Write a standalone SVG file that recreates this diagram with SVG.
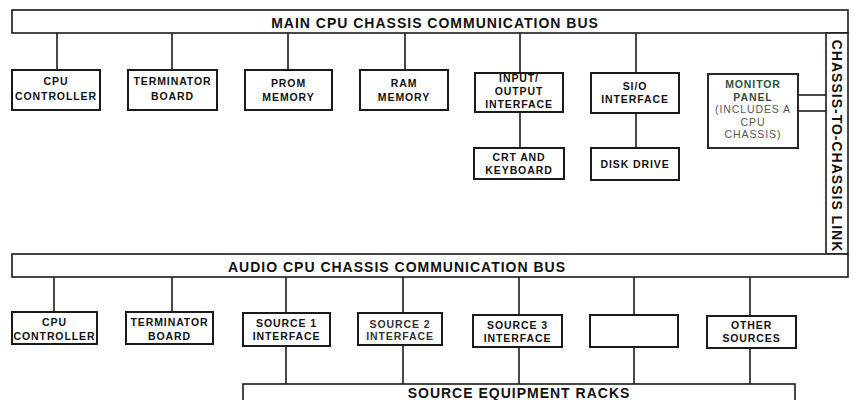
<svg xmlns="http://www.w3.org/2000/svg" width="854" height="400" viewBox="0 0 854 400">
<style>
.bus{fill:#fff;stroke:#1a1a1a;stroke-width:1.6}
.box{fill:#fff;stroke:#1a1a1a;stroke-width:2}
.conn{stroke:#1a1a1a;stroke-width:1.6;fill:none}
.bt{font-family:"Liberation Sans",Arial,sans-serif;font-weight:bold;font-size:14px;letter-spacing:1px;fill:#111;text-anchor:middle}
.t{font-family:"Liberation Sans",Arial,sans-serif;font-weight:bold;font-size:10.5px;letter-spacing:0.9px;fill:#111;text-anchor:middle}
.mp{fill:#2e5040}
.mpr{font-weight:normal;fill:#555}
.grey{fill:#333}
</style>
<rect width="854" height="400" fill="#fff"/>

<g id="connectors">
<line class="conn" x1="57" y1="33" x2="57" y2="70"/>
<line class="conn" x1="172" y1="33" x2="172" y2="70"/>
<line class="conn" x1="288" y1="33" x2="288" y2="70"/>
<line class="conn" x1="405" y1="33" x2="405" y2="70"/>
<line class="conn" x1="520" y1="33" x2="520" y2="73"/>
<line class="conn" x1="636" y1="33" x2="636" y2="73"/>
<line class="conn" x1="520" y1="112" x2="520" y2="148"/>
<line class="conn" x1="636" y1="113" x2="636" y2="148"/>
<line class="conn" x1="798" y1="95" x2="826" y2="95"/>
<line class="conn" x1="798" y1="111" x2="826" y2="111"/>
<line class="conn" x1="54" y1="277" x2="54" y2="312"/>
<line class="conn" x1="172" y1="277" x2="172" y2="312"/>
<line class="conn" x1="286" y1="277" x2="286" y2="313"/>
<line class="conn" x1="403" y1="277" x2="403" y2="313"/>
<line class="conn" x1="519" y1="277" x2="519" y2="315"/>
<line class="conn" x1="634" y1="277" x2="634" y2="315"/>
<line class="conn" x1="750" y1="277" x2="750" y2="316"/>
<line class="conn" x1="286" y1="346" x2="286" y2="384"/>
<line class="conn" x1="403" y1="345" x2="403" y2="384"/>
<line class="conn" x1="519" y1="347" x2="519" y2="384"/>
<line class="conn" x1="634" y1="347" x2="634" y2="384"/>
<line class="conn" x1="750" y1="348" x2="750" y2="384"/>
</g>

<g id="main-bus">
<rect class="bus" x="12" y="10" width="836" height="23"/>
<text class="bt" x="435" y="28">MAIN CPU CHASSIS COMMUNICATION BUS</text>
</g>

<g id="chassis-link">
<rect class="bus" x="826" y="33" width="22" height="221"/>
<text class="bt" transform="translate(837,146) rotate(90)" x="0" y="5">CHASSIS-TO-CHASSIS LINK</text>
</g>

<g id="audio-bus">
<rect class="bus" x="12" y="254" width="836" height="23"/>
<text class="bt" x="397" y="272">AUDIO CPU CHASSIS COMMUNICATION BUS</text>
</g>

<g id="racks">
<rect class="bus" x="243" y="384" width="552" height="30"/>
<text class="bt" x="519" y="397.5">SOURCE EQUIPMENT RACKS</text>
</g>

<g id="cpu-controller-1">
<rect class="box" x="12" y="70" width="88" height="40"/>
<text class="t" x="56" y="85">CPU</text>
<text class="t" x="56" y="100">CONTROLLER</text>
</g>
<g id="terminator-1">
<rect class="box" x="128" y="70" width="89" height="40"/>
<text class="t" x="172.5" y="85">TERMINATOR</text>
<text class="t" x="172.5" y="100">BOARD</text>
</g>
<g id="prom">
<rect class="box" x="245" y="70" width="87" height="40"/>
<text class="t" x="288.5" y="87">PROM</text>
<text class="t" x="288.5" y="101">MEMORY</text>
</g>
<g id="ram">
<rect class="box" x="360" y="70" width="88" height="40"/>
<text class="t" x="404" y="87">RAM</text>
<text class="t" x="404" y="101">MEMORY</text>
</g>
<g id="io">
<rect class="box" x="475" y="73" width="88" height="39"/>
<text class="t" x="519" y="82">INPUT/</text>
<text class="t" x="519" y="95">OUTPUT</text>
<text class="t" x="519" y="108">INTERFACE</text>
</g>
<g id="sio">
<rect class="box" x="591" y="73" width="88" height="40"/>
<text class="t" x="635" y="90">SI/O</text>
<text class="t" x="635" y="103">INTERFACE</text>
</g>
<g id="monitor">
<rect class="box" x="708" y="74" width="90" height="74" style="stroke:#2a2a2a"/>
<text class="t mp" x="753" y="88">MONITOR</text>
<text class="t mp" x="753" y="100.5">PANEL</text>
<text class="t mpr" x="753" y="113">(INCLUDES A</text>
<text class="t mpr" x="753" y="125.5">CPU</text>
<text class="t mpr" x="753" y="138">CHASSIS)</text>
</g>
<g id="crt">
<rect class="box" x="474" y="148" width="90" height="31"/>
<text class="t" x="519" y="161">CRT AND</text>
<text class="t" x="519" y="174">KEYBOARD</text>
</g>
<g id="disk">
<rect class="box" x="591" y="148" width="88" height="32"/>
<text class="t" x="635" y="168">DISK DRIVE</text>
</g>

<g id="cpu-controller-2">
<rect class="box" x="12" y="312" width="85" height="32"/>
<text class="t" x="54.5" y="326">CPU</text>
<text class="t" x="54.5" y="340">CONTROLLER</text>
</g>
<g id="terminator-2">
<rect class="box" x="126" y="312" width="87" height="32"/>
<text class="t" x="169.5" y="326">TERMINATOR</text>
<text class="t" x="169.5" y="340">BOARD</text>
</g>
<g id="source1">
<rect class="box" x="243" y="313" width="87" height="33"/>
<text class="t" x="286.5" y="327">SOURCE 1</text>
<text class="t" x="286.5" y="340">INTERFACE</text>
</g>
<g id="source2">
<rect class="box" x="358" y="313" width="84" height="32"/>
<text class="t grey" x="400" y="328">SOURCE 2</text>
<text class="t grey" x="400" y="340">INTERFACE</text>
</g>
<g id="source3">
<rect class="box" x="473" y="315" width="89" height="32"/>
<text class="t" x="517.5" y="329">SOURCE 3</text>
<text class="t" x="517.5" y="342">INTERFACE</text>
</g>
<g id="empty-slot">
<rect class="box" x="590" y="315" width="88" height="32"/>
</g>
<g id="other-sources">
<rect class="box" x="707" y="316" width="89" height="32"/>
<text class="t" x="751.5" y="329">OTHER</text>
<text class="t" x="751.5" y="342">SOURCES</text>
</g>
</svg>
